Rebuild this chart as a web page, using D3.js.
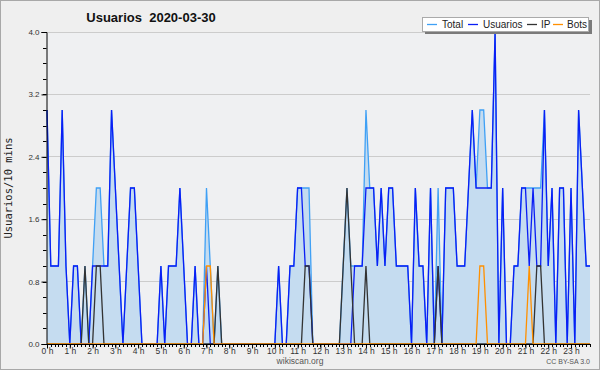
<!DOCTYPE html>
<html><head><meta charset="utf-8">
<script src="https://cdn.jsdelivr.net/npm/d3@7"></script>
<style>html,body{margin:0;padding:0;background:#efefef}svg{display:block}</style>
</head><body>
<script>
const hourLabels = ["0 h","1 h","2 h","3 h","4 h","5 h","6 h","7 h","8 h","9 h","10 h","11 h","12 h","13 h","14 h","15 h","16 h","17 h","18 h","19 h","20 h","21 h","22 h","23 h"];
const yTicks = [0, 0.8, 1.6, 2.4, 3.2, 4.0];
const seriesNames = ["Total","Usuarios","IP","Bots"];
const total = [3,1,1,1,3,1,0,1,1,0, 1,0,1,2,2,1,1,3,2,1, 0,1,2,2,1,0,0,0,0,0, 1,0,1,1,1,2,1,0,0,1,
  0,0,2,1,0,1,0,0,0,0, 0,0,0,0,0,0,0,0,0,0, 0,1,0,0,1,1,2,2,2,2, 0,0,0,0,0,0,0,0,1,2,
  1,1,1,1,3,2,2,1,2,1, 2,2,1,1,1,1,0,2,1,1, 0,2,0,2,0,2,2,2,1,1, 1,2,3,2,3,3,2,2,4,0,
  2,0,0,1,1,2,2,2,2,2, 2,3,1,2,0,2,2,0,2,0, 3,2,1,1];
const usuarios = [3,1,1,1,3,1,0,1,1,0, 0,0,1,1,1,1,1,3,2,1, 0,1,2,2,1,0,0,0,0,0, 1,0,1,1,1,2,1,0,0,1,
  0,0,1,0,0,0,0,0,0,0, 0,0,0,0,0,0,0,0,0,0, 0,1,0,0,1,1,2,2,1,1, 0,0,0,0,0,0,0,0,0,0,
  0,1,1,1,2,2,2,1,2,1, 2,2,1,1,1,1,0,2,1,1, 0,2,0,1,0,2,2,2,1,1, 1,2,3,2,2,2,2,2,4,0,
  2,0,0,1,1,2,2,1,2,1, 1,3,1,2,0,2,2,0,2,0, 3,2,1,1];
const ip = [0,0,0,0,0,0,0,0,0,0, 1,0,0,1,1,0,0,0,0,0, 0,0,0,0,0,0,0,0,0,0, 0,0,0,0,0,0,0,0,0,0,
  0,0,0,0,0,1,0,0,0,0, 0,0,0,0,0,0,0,0,0,0, 0,0,0,0,0,0,0,0,1,1, 0,0,0,0,0,0,0,0,1,2,
  1,0,0,0,1,0,0,0,0,0, 0,0,0,0,0,0,0,0,0,0, 0,0,0,1,0,0,0,0,0,0, 0,0,0,0,0,0,0,0,0,0,
  0,0,0,0,0,0,0,0,0,1, 1,0,0,0,0,0,0,0,0,0, 0,0,0,0];
const bots = [0,0,0,0,0,0,0,0,0,0, 0,0,0,0,0,0,0,0,0,0, 0,0,0,0,0,0,0,0,0,0, 0,0,0,0,0,0,0,0,0,0,
  0,0,1,1,0,0,0,0,0,0, 0,0,0,0,0,0,0,0,0,0, 0,0,0,0,0,0,0,0,0,0, 0,0,0,0,0,0,0,0,0,0,
  0,0,0,0,0,0,0,0,0,0, 0,0,0,0,0,0,0,0,0,0, 0,0,0,0,0,0,0,0,0,0, 0,0,0,0,1,1,0,0,0,0,
  0,0,0,0,0,0,0,1,0,0, 0,0,0,0,0,0,0,0,0,0, 0,0,0,0];
const titleText = "Usuarios  2020-03-30";
const yLabel = "Usuarios/10 mins";

const W = 600, H = 370;
const svg = d3.select("body").append("svg").attr("width", W).attr("height", H);
svg.append("rect").attr("x",0.5).attr("y",0.5).attr("width",W-1).attr("height",H-1)
  .attr("fill","#efefef").attr("stroke","#a8a8a8");

const x = d3.scaleLinear().domain([0, total.length - 1]).range([47, 590]);
const y = d3.scaleLinear().domain([0, 4]).range([344, 32]);

svg.append("rect").attr("x",47).attr("y",32).attr("width",543).attr("height",312).attr("fill","#eff0f2");

// grid
svg.append("g").selectAll("line").data(yTicks.filter(d=>d>0)).join("line")
  .attr("x1",47).attr("x2",590).attr("y1",d=>y(d)).attr("y2",d=>y(d))
  .attr("stroke","#cccccc").attr("stroke-width",1).attr("shape-rendering","crispEdges");

// area + lines
const idx = d3.range(total.length);
svg.append("path").datum(idx)
  .attr("d", d3.area().x(i=>x(i)).y0(y(0)).y1(i=>y(total[i])))
  .attr("fill","#c5dcf0");
const line = arr => d3.line().x(i=>x(i)).y(i=>y(arr[i]));
const styles = [[total,"#3fa0f5"],[usuarios,"#0a1ef5"],[ip,"#333333"],[bots,"#ff9000"]];
styles.forEach(([arr,c]) => {
  svg.append("path").datum(idx).attr("d", line(arr)).attr("fill","none")
    .attr("stroke",c).attr("stroke-width",1.3).attr("stroke-linejoin","miter");
});

// y axis
const yAxis = d3.axisLeft(y).tickValues(yTicks).tickFormat(d3.format(".1f")).tickSize(5).tickPadding(2);
const gy = svg.append("g").attr("transform","translate(46.5,0)").call(yAxis);
gy.select(".domain").attr("stroke","#000");
gy.selectAll(".tick line").attr("stroke","#000");
gy.selectAll("text").attr("font-family","Liberation Sans, Arial, sans-serif").attr("font-size",8).attr("fill","#333");
const yMinor = d3.range(0, 4.01, 0.2);
svg.append("g").selectAll("line").data(yMinor).join("line")
  .attr("x1",43).attr("x2",46.5).attr("y1",d=>Math.round(y(d))+0.5).attr("y2",d=>Math.round(y(d))+0.5)
  .attr("stroke","#000");

// x axis
const xAxis = d3.axisBottom(x).tickValues(hourLabels.map((d,i)=>i*6))
  .tickFormat((d,i)=>hourLabels[i]).tickSize(4).tickPadding(1);
const gx = svg.append("g").attr("transform","translate(0,344.5)").call(xAxis);
gx.select(".domain").attr("stroke","#000").attr("d","M46,0H590");
gx.selectAll(".tick line").attr("stroke","#000");
gx.selectAll("text").attr("y",3.5).attr("font-family","Liberation Sans, Arial, sans-serif").attr("font-size",8.5).attr("fill","#333");
svg.append("g").selectAll("line").data(d3.range(0, 144)).join("line")
  .attr("x1",d=>Math.round(x(d))+0.5).attr("x2",d=>Math.round(x(d))+0.5).attr("y1",344).attr("y2",347)
  .attr("stroke","#000");

// title
svg.append("text").attr("x",151).attr("y",22).attr("text-anchor","middle")
  .attr("font-family","Liberation Sans, Arial, sans-serif").attr("font-weight","bold").attr("font-size",13)
  .attr("fill","#111").attr("xml:space","preserve").style("white-space","pre").text(titleText);

// y label
svg.append("text").attr("transform","translate(12,188) rotate(-90)").attr("text-anchor","middle")
  .attr("font-family","DejaVu Sans Mono, monospace").attr("font-size",10.5).attr("fill","#222").text(yLabel);

// footer
svg.append("text").attr("x",300).attr("y",364).attr("text-anchor","middle")
  .attr("font-family","Liberation Sans, Arial, sans-serif").attr("font-size",8.5).attr("fill","#555").text("wikiscan.org");
svg.append("text").attr("x",590).attr("y",364).attr("text-anchor","end")
  .attr("font-family","Liberation Sans, Arial, sans-serif").attr("font-size",7).attr("fill","#555").text("CC BY-SA 3.0");

// legend
const lg = svg.append("g");
lg.append("rect").attr("x",425).attr("y",20).attr("width",167).attr("height",14).attr("fill","#7a7a7a");
lg.append("rect").attr("x",422.5).attr("y",17.5).attr("width",166).attr("height",14).attr("fill","#fff").attr("stroke","#aaa");
const legItems = [[seriesNames[0],"#3fa0f5",427,442],[seriesNames[1],"#0a1ef5",468,483],[seriesNames[2],"#333333",527,541],[seriesNames[3],"#ff9000",553,567]];
legItems.forEach(([n,c,lx,tx]) => {
  lg.append("line").attr("x1",lx).attr("x2",lx+10).attr("y1",24.5).attr("y2",24.5).attr("stroke",c).attr("stroke-width",1.3);
  lg.append("text").attr("x",tx).attr("y",28).attr("font-family","Liberation Sans, Arial, sans-serif")
    .attr("font-size",10).attr("fill","#222").text(n);
});
</script>
</body></html>
